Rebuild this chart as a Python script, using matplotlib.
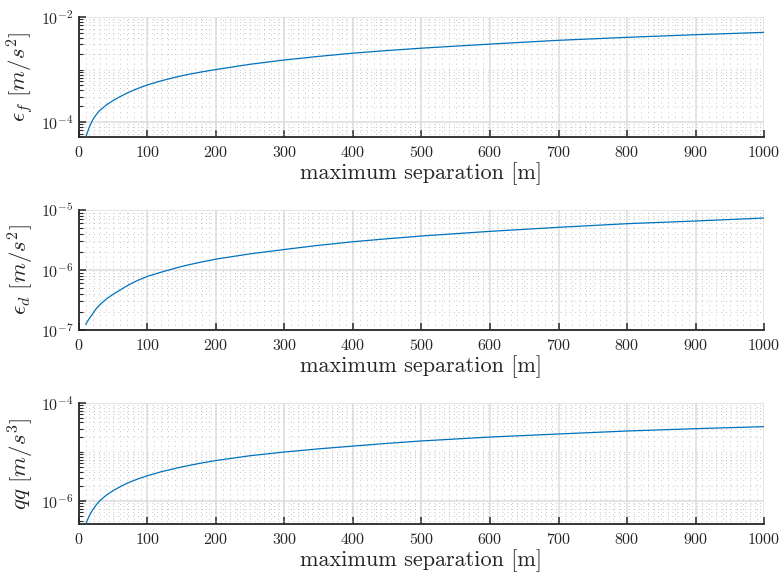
import numpy as np
import matplotlib
matplotlib.use('Agg')
import matplotlib.pyplot as plt
from matplotlib.ticker import FixedLocator, LogLocator, MultipleLocator, NullFormatter

# Data
sep = [10, 15, 20, 25, 30, 40, 50, 60, 70, 80, 90, 100, 120, 140, 150, 160, 180, 200,
       250, 300, 350, 400, 450, 500, 600, 700, 800, 900, 1000]
eps_f = [5.2e-5, 8.0e-5, 1.1e-4, 1.38e-4, 1.65e-4, 2.12e-4, 2.58e-4, 3.05e-4, 3.55e-4,
         4.05e-4, 4.58e-4, 5.1e-4, 6.1e-4, 7.1e-4, 7.6e-4, 8.1e-4, 9.05e-4, 1.0e-3,
         1.26e-3, 1.52e-3, 1.78e-3, 2.05e-3, 2.3e-3, 2.55e-3, 3.05e-3, 3.6e-3, 4.1e-3,
         4.6e-3, 5.1e-3]
eps_d = [1.25e-7, 1.55e-7, 1.87e-7, 2.25e-7, 2.61e-7, 3.3e-7, 3.95e-7, 4.65e-7, 5.45e-7,
         6.25e-7, 7.05e-7, 7.85e-7, 9.2e-7, 1.07e-6, 1.145e-6, 1.22e-6, 1.37e-6, 1.52e-6,
         1.86e-6, 2.2e-6, 2.58e-6, 2.96e-6, 3.32e-6, 3.69e-6, 4.41e-6, 5.15e-6, 5.92e-6,
         6.56e-6, 7.36e-6]
qq = [3.4e-7, 5.0e-7, 6.6e-7, 8.3e-7, 1.0e-6, 1.32e-6, 1.63e-6, 1.95e-6, 2.3e-6,
      2.62e-6, 2.95e-6, 3.28e-6, 3.95e-6, 4.6e-6, 4.95e-6, 5.3e-6, 6.0e-6, 6.7e-6,
      8.4e-6, 1.0e-5, 1.16e-5, 1.32e-5, 1.5e-5, 1.68e-5, 2.02e-5, 2.33e-5, 2.68e-5,
      2.99e-5, 3.29e-5]

ylabels = [r'$\epsilon_f\ [m/s^2]$', r'$\epsilon_d\ [m/s^2]$', r'$qq\ [m/s^3]$']
ylims = [(5.2e-5, 1e-2), (1e-7, 1e-5), (3.4e-7, 1e-4)]
ymajors = [[1e-4, 1e-2], [1e-7, 1e-6, 1e-5], [1e-6, 1e-4]]
series = [eps_f, eps_d, qq]

plt.rcParams['font.family'] = 'serif'
plt.rcParams['font.serif'] = ['cmr10']
plt.rcParams['mathtext.fontset'] = 'cm'
plt.rcParams['axes.formatter.use_mathtext'] = True

fig = plt.figure(figsize=(7.82, 5.8), dpi=100)

# axes boxes [left, bottom, width, height]
boxes = [[0.101, 0.7638, 0.876, 0.2069],
         [0.101, 0.431, 0.876, 0.2069],
         [0.101, 0.0966, 0.876, 0.2086]]

axc = '#262626'
for box, y, lab, lim, maj in zip(boxes, series, ylabels, ylims, ymajors):
    ax = fig.add_axes(box)
    ax.plot(sep, y, color='#0072BD', lw=0.9, zorder=3)
    ax.set_yscale('log')
    ax.set_xlim(0, 1000)
    ax.set_ylim(*lim)

    ax.xaxis.set_major_locator(MultipleLocator(100))
    ax.xaxis.set_minor_locator(MultipleLocator(10))
    ax.yaxis.set_major_locator(FixedLocator(maj))
    ax.yaxis.set_minor_locator(LogLocator(base=10, subs=np.arange(1, 10), numticks=20))
    ax.yaxis.set_minor_formatter(NullFormatter())

    ax.grid(True, which='major', color='#dcdcdc', lw=1.1, ls='-')
    ax.grid(True, which='minor', color='#c4c4c4', lw=0.7, ls=(0, (1, 4)))
    ax.set_axisbelow(True)

    for s in ['top', 'right']:
        ax.spines[s].set_visible(False)
    for s in ['left', 'bottom']:
        ax.spines[s].set_color(axc)
        ax.spines[s].set_linewidth(1.3)

    ax.tick_params(axis='both', which='major', direction='in', length=5, width=1.1,
                   color=axc, labelsize=11.5, labelcolor=axc)
    ax.tick_params(axis='x', which='major', pad=6)
    ax.tick_params(axis='y', which='major', pad=4)
    ax.tick_params(axis='y', which='minor', direction='in', length=2.8, width=0.8, color=axc)
    ax.tick_params(axis='x', which='minor', length=0)

    ax.set_xlabel('maximum separation [m]', fontsize=16, color=axc)
    ax.set_ylabel(lab, fontsize=16.5, color=axc)
    ax.xaxis.set_label_coords(0.5, -0.21)
    ax.yaxis.set_label_coords(-0.063, 0.5)

fig.savefig('out.png', dpi=100)
